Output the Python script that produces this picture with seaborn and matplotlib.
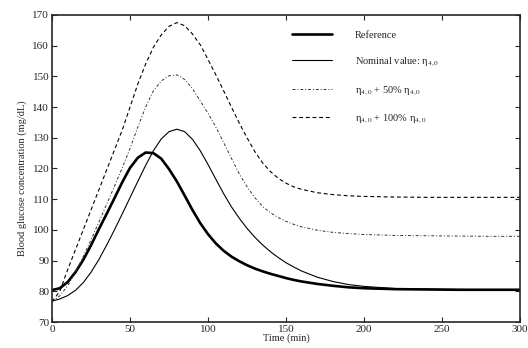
import matplotlib
matplotlib.use("Agg")
import matplotlib.pyplot as plt
import pandas as pd
import seaborn as sns

# Tempo (min) e concentracao de glicose (mg/dL)
time_min = [0, 5, 10, 15, 20, 25, 30, 35, 40, 45, 50, 55, 60, 65, 70, 75, 80,
            85, 90, 95, 100, 105, 110, 115, 120, 125, 130, 135, 140, 145, 150,
            155, 160, 170, 180, 190, 200, 220, 240, 260, 280, 300]

reference = [80.4, 81.0, 83.0, 86.2, 90.2, 95.0, 100.2, 105.2, 110.3, 115.5,
             120.2, 123.5, 125.2, 125.0, 123.2, 119.8, 115.8, 111.2, 106.5,
             102.2, 98.6, 95.6, 93.2, 91.3, 89.8, 88.5, 87.4, 86.5, 85.7, 85.0,
             84.3, 83.7, 83.2, 82.4, 81.8, 81.3, 81.0, 80.7, 80.6, 80.5, 80.5,
             80.5]

nominal = [76.8, 77.5, 78.6, 80.3, 82.8, 86.2, 90.3, 95.0, 100.0, 105.2, 110.5,
           115.8, 121.0, 125.8, 129.6, 132.0, 132.8, 132.0, 129.5, 125.8, 121.3,
           116.5, 111.8, 107.5, 103.8, 100.5, 97.6, 95.1, 92.9, 91.0, 89.3,
           87.9, 86.6, 84.6, 83.2, 82.2, 81.6, 80.9, 80.7, 80.6, 80.5, 80.5]

plus_50 = [76.6, 78.5, 81.8, 86.2, 91.3, 96.8, 102.5, 108.3, 114.2, 120.2,
           126.5, 133.5, 140.0, 145.3, 148.5, 150.2, 150.5, 149.0, 146.0, 142.0,
           138.0, 133.5, 128.5, 123.3, 118.3, 114.0, 110.5, 107.6, 105.6, 104.0,
           102.8, 101.8, 101.0, 99.9, 99.2, 98.8, 98.5, 98.2, 98.1, 98.0, 97.9,
           97.9]

plus_100 = [76.6, 80.0, 87.0, 93.5, 100.0, 106.5, 113.0, 119.5, 126.0, 132.5,
            140.0, 147.5, 154.0, 159.5, 163.5, 166.3, 167.5, 166.5, 163.8,
            160.3, 155.5, 150.5, 145.3, 140.0, 134.8, 130.0, 125.5, 121.8,
            119.0, 116.8, 115.2, 114.0, 113.2, 112.1, 111.5, 111.1, 110.9,
            110.7, 110.6, 110.6, 110.6, 110.6]

labels = ["Reference",
          "Nominal value: η$_{4,0}$",
          "η$_{4,0}$ + 50% η$_{4,0}$",
          "η$_{4,0}$ + 100% η$_{4,0}$"]

sns.set_style("ticks")
plt.rcParams["font.family"] = ["Liberation Serif", "DejaVu Serif"]
plt.rcParams["mathtext.fontset"] = "stix"
plt.rcParams["xtick.direction"] = "in"
plt.rcParams["ytick.direction"] = "in"

df = pd.DataFrame({"t": time_min, "ref": reference, "nom": nominal,
                   "p50": plus_50, "p100": plus_100})

fig = plt.figure(figsize=(5.28, 3.48), dpi=100)
ax = fig.add_axes([0.0985, 0.0747, 0.8865, 0.8823])

sns.lineplot(data=df, x="t", y="ref", ax=ax, color="black", linewidth=1.9,
             label=labels[0])
sns.lineplot(data=df, x="t", y="nom", ax=ax, color="black", linewidth=0.8,
             label=labels[1])
sns.lineplot(data=df, x="t", y="p50", ax=ax, color="#333333", linewidth=0.7,
             label=labels[2])
ax.lines[-1].set_dashes([3, 2, 1, 2])
sns.lineplot(data=df, x="t", y="p100", ax=ax, color="black", linewidth=0.8,
             label=labels[3])
ax.lines[-1].set_dashes([3.5, 2.5])

ax.set_xlim(0, 300)
ax.set_ylim(70, 170)
ax.set_xticks(range(0, 301, 50))
ax.set_yticks(range(70, 171, 10))
ax.tick_params(axis="both", labelsize=8, length=3.5, width=0.8,
               top=True, right=True, pad=2)
for side in ax.spines.values():
    side.set_linewidth(1.2)
    side.set_visible(True)

ax.set_xlabel("Time (min)", fontsize=7.5, labelpad=0)
ax.set_ylabel("Blood glucose concentration (mg/dL)", fontsize=7.5)
ax.yaxis.set_label_coords(-0.053, 0.47)

ax.legend(loc="upper left", bbox_to_anchor=(0.513, 0.95), frameon=False,
          fontsize=7.5, handlelength=3.8, handletextpad=2.2, labelspacing=1.5,
          borderaxespad=0, borderpad=0)

fig.savefig("out.png", dpi=100)
